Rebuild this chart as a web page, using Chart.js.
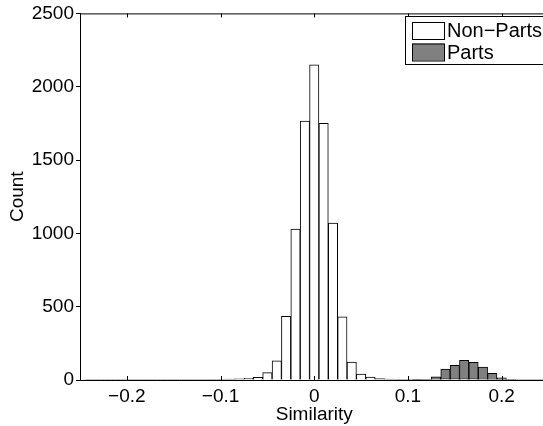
<!DOCTYPE html>
<html>
<head>
<meta charset="utf-8">
<script src="https://cdn.jsdelivr.net/npm/chart.js@4/dist/chart.umd.min.js"></script>
<style>
    html, body { margin: 0; padding: 0; background: #fff; overflow: hidden; }
    #wrap { width: 543px; height: 426px; overflow: hidden; }
    #c { width: 552px; height: 426px; }
</style>
</head>
<body>
<div id="wrap"><canvas id="c" width="552" height="426"></canvas></div>
<script>
/* ==================== DATA ==================== */
const binCenters = [
    -0.24, -0.23, -0.22, -0.21, -0.20, -0.19, -0.18, -0.17, -0.16, -0.15,
    -0.14, -0.13, -0.12, -0.11, -0.10, -0.09, -0.08, -0.07, -0.06, -0.05,
    -0.04, -0.03, -0.02, -0.01, 0.00, 0.01, 0.02, 0.03, 0.04, 0.05,
    0.06, 0.07, 0.08, 0.09, 0.10, 0.11, 0.12, 0.13, 0.14, 0.15,
    0.16, 0.17, 0.18, 0.19, 0.20, 0.21, 0.22, 0.23, 0.24
];
const nonPartsCounts = [
    2, 1, 1, 1, 2, 1, 2, 2, 1, 1,
    2, 2, 2, 3, 4, 6, 8, 11, 18, 50,
    130, 435, 1030, 1765, 2150, 1750, 1070, 430, 122, 40,
    20, 9, 6, 4, 3, 3, 5, 8, 10, 10,
    10, 10, 8, 5, 3, 2, 1, 1, 1
];
const partsCounts = [
    0, 0, 0, 0, 0, 0, 0, 0, 0, 0,
    0, 0, 0, 0, 0, 0, 0, 0, 0, 0,
    0, 0, 0, 0, 0, 0, 0, 0, 0, 0,
    0, 0, 0, 0, 0, 2, 5, 22, 75, 100,
    134, 120, 88, 45, 15, 3, 0, 0, 0
];
const xTicks = [-0.2, -0.1, 0, 0.1, 0.2];
const yTicks = [0, 500, 1000, 1500, 2000, 2500];
const seriesNames = ['Non\u2212Parts', 'Parts'];

const FONT = { family: '"Liberation Sans", Arial, Helvetica, sans-serif', size: 19 };

/* ==================== PLUGIN: top border, inner ticks, legend ==================== */
const frame = {
    id: 'frame',
    afterDraw(chart) {
        const ctx = chart.ctx;
        const a = chart.chartArea;
        const xs = chart.scales.x;
        ctx.save();
        ctx.strokeStyle = '#000';
        ctx.lineWidth = 1;
        // top border (right border falls outside the window)
        ctx.beginPath();
        ctx.moveTo(a.left, a.top + 0.5);
        ctx.lineTo(a.right, a.top + 0.5);
        ctx.stroke();
        // inward x ticks, bottom and top
        ctx.beginPath();
        xTicks.forEach((v) => {
            const px = Math.round(xs.getPixelForValue(v)) + 0.5;
            ctx.moveTo(px, a.bottom);
            ctx.lineTo(px, a.bottom - 4);
            ctx.moveTo(px, a.top);
            ctx.lineTo(px, a.top + 4);
        });
        ctx.stroke();

        // legend
        const lx = 405, ly = 16;
        ctx.fillStyle = '#fff';
        ctx.fillRect(lx, ly, 160, 48);
        ctx.strokeRect(lx + 0.5, ly + 0.5, 160, 48);
        const swatch = ['#ffffff', '#808080'];
        ctx.font = '20px ' + FONT.family;
        ctx.textBaseline = 'middle';
        seriesNames.forEach((name, i) => {
            const sy = 22 + i * 21.5;
            ctx.fillStyle = swatch[i];
            ctx.fillRect(412, sy, 32, 17);
            ctx.strokeRect(412.5, sy + 0.5, 32, 17);
            ctx.fillStyle = '#000';
            ctx.fillText(name, 447, sy + 9.5);
        });
        ctx.restore();
    }
};

/* ==================== CHART ==================== */
const toPoints = (vals) => binCenters.map((x, i) => ({ x: x, y: vals[i] }));

new Chart(document.getElementById('c'), {
    type: 'bar',
    data: {
        datasets: [
            {
                label: seriesNames[0],
                data: toPoints(nonPartsCounts),
                backgroundColor: '#ffffff',
                borderColor: '#000000',
                borderWidth: 1,
                order: 0,
            },
            {
                label: seriesNames[1],
                data: toPoints(partsCounts),
                backgroundColor: '#808080',
                borderColor: '#000000',
                borderWidth: 1,
                order: 1,
            },
        ],
    },
    options: {
        responsive: false,
        devicePixelRatio: 1,
        animation: false,
        grouped: false,
        barPercentage: 1,
        categoryPercentage: 1,
        layout: { padding: { left: 0, top: 12, right: 3.5, bottom: 0 } },
        plugins: {
            legend: { display: false },
            tooltip: { enabled: false },
        },
        scales: {
            x: {
                type: 'linear',
                min: -0.25,
                max: 0.25,
                offset: false,
                afterFit: (s) => { s.height = 46; },
                afterBuildTicks: (s) => { s.ticks = xTicks.map((v) => ({ value: v })); },
                grid: { display: false },
                border: { display: true, color: '#000', width: 1 },
                ticks: {
                    color: '#000',
                    font: FONT,
                    padding: -3,
                    maxRotation: 0,
                    autoSkip: false,
                    callback: (v) => (v < 0 ? '\u2212' + Math.abs(v) : String(v)),
                },
                title: {
                    display: true,
                    text: 'Similarity',
                    color: '#000',
                    font: FONT,
                    padding: { top: 0, bottom: 0 },
                },
            },
            y: {
                min: 0,
                max: 2500,
                afterFit: (s) => { s.width = 80; },
                afterBuildTicks: (s) => { s.ticks = yTicks.map((v) => ({ value: v })); },
                grid: {
                    display: true,
                    drawOnChartArea: false,
                    drawTicks: true,
                    tickLength: 4,
                    color: '#000',
                },
                border: { display: true, color: '#000', width: 1 },
                ticks: {
                    color: '#000',
                    font: FONT,
                    padding: 2,
                    callback: (v) => String(v),
                },
                title: {
                    display: true,
                    text: 'Count',
                    color: '#000',
                    font: FONT,
                    padding: { top: 6, bottom: 0 },
                },
            },
        },
    },
    plugins: [frame],
});
</script>
</body>
</html>
